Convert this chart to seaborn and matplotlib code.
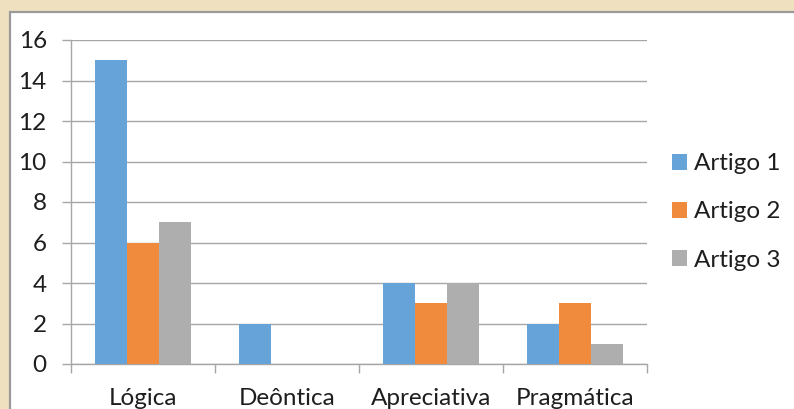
import matplotlib
matplotlib.use("Agg")
import matplotlib.pyplot as plt
from matplotlib.patches import Rectangle
import numpy as np
import pandas as pd
import seaborn as sns

categories = ["Lógica", "Deôntica", "Apreciativa", "Pragmática"]
series_names = ["Artigo 1", "Artigo 2", "Artigo 3"]
artigo_1 = [15, 2, 4, 2]
artigo_2 = [6, 0, 3, 3]
artigo_3 = [7, 0, 4, 1]
y_ticks = [0, 2, 4, 6, 8, 10, 12, 14, 16]

colors = ["#66A3D8", "#F08A3C", "#ADAEAD"]
grid_color = "#A6A6A6"
text_color = "#1E1E1E"
font_size = 17.5

df = pd.DataFrame({
    "categoria": categories * 3,
    "serie": [s for s in series_names for _ in categories],
    "valor": artigo_1 + artigo_2 + artigo_3,
})

sns.set_theme(style="white")
plt.rcParams["font.family"] = ["Lato", "DejaVu Sans"]

W, H = 794, 409
fig = plt.figure(figsize=(W / 100, H / 100), dpi=100, facecolor="#EFE0C0")

# white chart panel with a grey frame, kept behind the axes
panel = Rectangle((9.5 / W, -0.1), 1.2, 1 - 12.5 / H + 0.1,
                  transform=fig.transFigure, facecolor="white",
                  edgecolor="#9A9A9A", linewidth=1.6, zorder=-10)
fig.add_artist(panel)

ax = fig.add_axes([71 / W, 1 - 364 / H, (647 - 71) / W, (364 - 40) / H])
ax.set_facecolor("none")

sns.barplot(data=df, x="categoria", y="valor", hue="serie",
            order=categories, hue_order=series_names,
            palette=colors, width=0.667, linewidth=0, saturation=1,
            errorbar=None, ax=ax, zorder=3)

ax.set_ylim(0, 16)
ax.set_xlim(-0.5, len(categories) - 0.5)
ax.set_yticks(y_ticks)
ax.set_xlabel("")
ax.set_ylabel("")

# category separators as tick marks, names centred between them
ax.set_xticks(np.arange(len(categories) + 1) - 0.5)
ax.set_xticklabels([])
ax.set_xticks(np.arange(len(categories)), minor=True)
ax.set_xticklabels(categories, minor=True)
ax.tick_params(axis="x", which="major", length=6.5, width=1, color=grid_color,
               direction="out", bottom=True)
ax.tick_params(axis="x", which="minor", length=0, pad=17.5, labelsize=font_size,
               labelcolor=text_color)
ax.tick_params(axis="y", which="major", length=6.5, width=1, color=grid_color,
               direction="out", left=True, pad=11, labelsize=font_size,
               labelcolor=text_color)

ax.yaxis.grid(True, color=grid_color, linewidth=1)
ax.set_axisbelow(True)
for side in ["top", "right"]:
    ax.spines[side].set_visible(False)
for side in ["left", "bottom"]:
    ax.spines[side].set_color(grid_color)
    ax.spines[side].set_linewidth(1)

leg = ax.legend(loc="center left", bbox_to_anchor=(672 / W, 1 - 212 / H),
                bbox_transform=fig.transFigure, frameon=False,
                fontsize=font_size, handlelength=0.62, handleheight=0.62,
                handletextpad=0.3, labelspacing=1.12,
                borderpad=0, borderaxespad=0)
for t in leg.get_texts():
    t.set_color(text_color)

fig.savefig("out.png", dpi=100, facecolor=fig.get_facecolor())
